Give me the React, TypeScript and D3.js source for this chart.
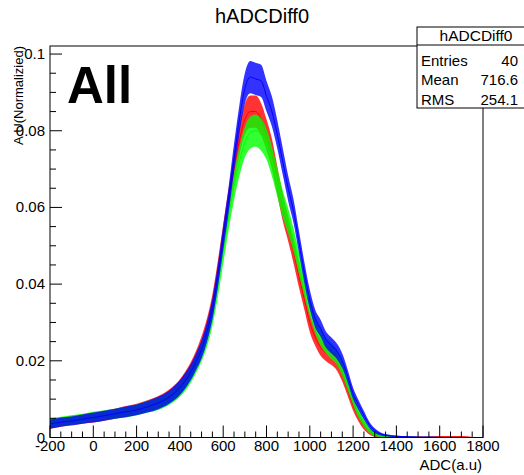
import React from "react";
import * as d3 from "d3";

const adc = [-200, -150, -100, -50, 0, 50, 100, 150, 200, 250, 300, 350, 400, 425, 450, 475, 500, 525, 550, 575, 600, 625, 650, 675, 700, 725, 750, 775, 800, 825, 850, 875, 900, 925, 950, 975, 1000, 1025, 1050, 1075, 1100, 1125, 1150, 1175, 1200, 1225, 1250, 1275, 1300, 1325, 1350, 1400, 1450, 1500, 1550, 1600, 1650, 1700, 1750];

const redValues = [0.0035, 0.004, 0.0045, 0.0048, 0.0052, 0.0057, 0.0062, 0.0068, 0.0074, 0.0082, 0.0092, 0.0108, 0.0133, 0.0152, 0.0175, 0.0205, 0.024, 0.0285, 0.0345, 0.043, 0.0525, 0.0615, 0.07, 0.0775, 0.083, 0.085, 0.085, 0.083, 0.079, 0.074, 0.067, 0.06, 0.0545, 0.0485, 0.042, 0.036, 0.03, 0.0262, 0.0235, 0.022, 0.021, 0.0195, 0.0165, 0.0125, 0.0085, 0.0055, 0.0032, 0.0016, 0.0008, 0.0004, 0.0002, 0.0001, 0.0001, 0.0001, 0.0001, 0.0002, 0.0002, 0.0002, 0.0];

const greenValues = [0.0038, 0.0042, 0.0046, 0.005, 0.0054, 0.0058, 0.0062, 0.0066, 0.0072, 0.008, 0.0088, 0.0102, 0.0125, 0.0142, 0.0163, 0.019, 0.0222, 0.0262, 0.0318, 0.0395, 0.0485, 0.0575, 0.0655, 0.072, 0.077, 0.0795, 0.08, 0.079, 0.0765, 0.072, 0.0665, 0.061, 0.0565, 0.0515, 0.0455, 0.0395, 0.034, 0.0295, 0.0262, 0.024, 0.0225, 0.021, 0.018, 0.014, 0.01, 0.0065, 0.004, 0.002, 0.001, 0.0005, 0.0003, 0.0001, 0.0001, 0.0, 0.0, 0.0, 0.0, 0.0, 0.0];

const blueValues = [0.0035, 0.004, 0.0043, 0.0048, 0.0052, 0.0057, 0.0062, 0.0067, 0.0072, 0.008, 0.009, 0.0105, 0.013, 0.0148, 0.017, 0.0198, 0.023, 0.0275, 0.0335, 0.042, 0.052, 0.062, 0.073, 0.083, 0.091, 0.094, 0.0935, 0.093, 0.089, 0.085, 0.079, 0.072, 0.065, 0.059, 0.051, 0.043, 0.036, 0.031, 0.0285, 0.0255, 0.024, 0.0225, 0.02, 0.016, 0.0115, 0.0085, 0.0058, 0.0033, 0.0018, 0.001, 0.0006, 0.0003, 0.0002, 0.0001, 0.0001, 0.0, 0.0, 0.0, 0.0];

// half-width of the noisy band
const bandHalfWidth = [0.0012, 0.0012, 0.0012, 0.0012, 0.0013, 0.0013, 0.0013, 0.0014, 0.0014, 0.0015, 0.0016, 0.0017, 0.0019, 0.002, 0.0021, 0.0022, 0.0024, 0.0026, 0.0028, 0.003, 0.0032, 0.0034, 0.0036, 0.0038, 0.004, 0.0042, 0.0042, 0.0042, 0.004, 0.0039, 0.0037, 0.0035, 0.0033, 0.0031, 0.0029, 0.0027, 0.0025, 0.0023, 0.0022, 0.0021, 0.0021, 0.002, 0.0019, 0.0017, 0.0015, 0.0013, 0.0011, 0.0008, 0.0006, 0.0004, 0.0003, 0.0002, 0.0001, 0.0001, 0.0001, 0.0001, 0.0001, 0.0001, 0.0001];

const xTicks = [-200, 0, 200, 400, 600, 800, 1000, 1200, 1400, 1600, 1800];
const yTicks = [0, 0.02, 0.04, 0.06, 0.08, 0.1];
const yTickLabels = ["0", "0.02", "0.04", "0.06", "0.08", "0.1"];

const statNames = ["Entries", "Mean", "RMS"];
const statValues = ["40", "716.6", "254.1"];

const series = [
  { name: "red", color: "#ff0000", values: redValues },
  { name: "green", color: "#00ff00", values: greenValues },
  { name: "blue", color: "#0000ff", values: blueValues },
];

const W = 524, H = 475;
const L = 50, R = 483, T = 46, B = 437.5;
const FONT = "'Liberation Sans', Arial, Helvetica, sans-serif";

export default function App() {
  const x = d3.scaleLinear().domain([-200, 1800]).range([L, R]);
  const y = d3.scaleLinear().domain([0, 0.1021]).range([B, T]);

  const minorX = d3.range(-200, 1801, 50).filter((v) => v % 200 !== 0);
  const minorY = d3.range(0, 0.1001, 0.005).filter((_, i) => i % 4 !== 0);

  const idx = adc.map((_, i) => i);

  return (
    <svg width={W} height={H} style={{ display: "block", position: "absolute", left: 0, top: 0, background: "#fff" }}>
      <rect x={0} y={0} width={W} height={H} fill="#fff" />
      <defs>
        <clipPath id="frameClip">
          <rect x={L} y={T} width={R - L} height={B - T} />
        </clipPath>
      </defs>
      <g clipPath="url(#frameClip)">
        {series.map((s) => {
          const last = s.values.reduce((acc, v, i) => (v > 0 ? i : acc), 0);
          const used = idx.filter((i) => i <= Math.min(last + 1, adc.length - 1));
          const area = d3
            .area<number>()
            .x((i) => x(adc[i]))
            .y0((i) => y(Math.max(0, s.values[i] - bandHalfWidth[i])))
            .y1((i) => y(s.values[i] + bandHalfWidth[i]))
            .curve(d3.curveMonotoneX);
          const line = d3
            .line<number>()
            .x((i) => x(adc[i]))
            .y((i) => y(s.values[i]))
            .curve(d3.curveMonotoneX);
          return (
            <g key={s.name}>
              <path d={area(used) || ""} fill={s.color} fillOpacity={0.8} stroke="none" />
              <path d={line(used) || ""} fill="none" stroke={s.color} strokeWidth={1} />
            </g>
          );
        })}
      </g>
      <rect x={L} y={T} width={R - L} height={B - T} fill="none" stroke="#000" strokeWidth={1} />
      {/* x ticks */}
      {xTicks.map((t) => (
        <line key={"xt" + t} x1={x(t)} x2={x(t)} y1={B} y2={B - 12} stroke="#000" />
      ))}
      {minorX.map((t) => (
        <line key={"xm" + t} x1={x(t)} x2={x(t)} y1={B} y2={B - 6} stroke="#000" />
      ))}
      {xTicks.map((t) => (
        <text key={"xl" + t} x={x(t)} y={451} textAnchor="middle" fontFamily={FONT} fontSize={15} fill="#000">
          {t}
        </text>
      ))}
      {/* y ticks */}
      {yTicks.map((t) => (
        <line key={"yt" + t} x1={L} x2={L + 12} y1={y(t)} y2={y(t)} stroke="#000" />
      ))}
      {minorY.map((t) => (
        <line key={"ym" + t} x1={L} x2={L + 6} y1={y(t)} y2={y(t)} stroke="#000" />
      ))}
      {yTicks.map((t, i) => (
        <text key={"yl" + t} x={45} y={y(t) + 5} textAnchor="end" fontFamily={FONT} fontSize={15} fill="#000">
          {yTickLabels[i]}
        </text>
      ))}
      {/* axis titles */}
      <text x={482} y={470} textAnchor="end" fontFamily={FONT} fontSize={15} fill="#000">
        ADC(a.u)
      </text>
      <text transform="translate(23,46) rotate(-90)" textAnchor="end" fontFamily={FONT} fontSize={13} fill="#000">
        A.U(Normalizied)
      </text>
      {/* title */}
      <text x={262} y={23} textAnchor="middle" fontFamily={FONT} fontSize={20} fill="#000">
        hADCDiff0
      </text>
      {/* All label */}
      <text x={67} y={103} fontFamily={FONT} fontSize={51} fontWeight="bold" fill="#000">
        All
      </text>
      {/* stats box */}
      <g>
        <rect x={417} y={27} width={120} height={81} fill="#fff" stroke="#000" strokeWidth={1} />
        <line x1={417} x2={537} y1={45} y2={45} stroke="#000" />
        <text x={476} y={41} textAnchor="middle" fontFamily={FONT} fontSize={15.5} fill="#000">
          hADCDiff0
        </text>
        {statNames.map((n, i) => (
          <g key={n}>
            <text x={421} y={65.5 + i * 19.5} fontFamily={FONT} fontSize={15} fill="#000">
              {n}
            </text>
            <text x={518} y={65.5 + i * 19.5} textAnchor="end" fontFamily={FONT} fontSize={15} fill="#000">
              {statValues[i]}
            </text>
          </g>
        ))}
      </g>
    </svg>
  );
}
